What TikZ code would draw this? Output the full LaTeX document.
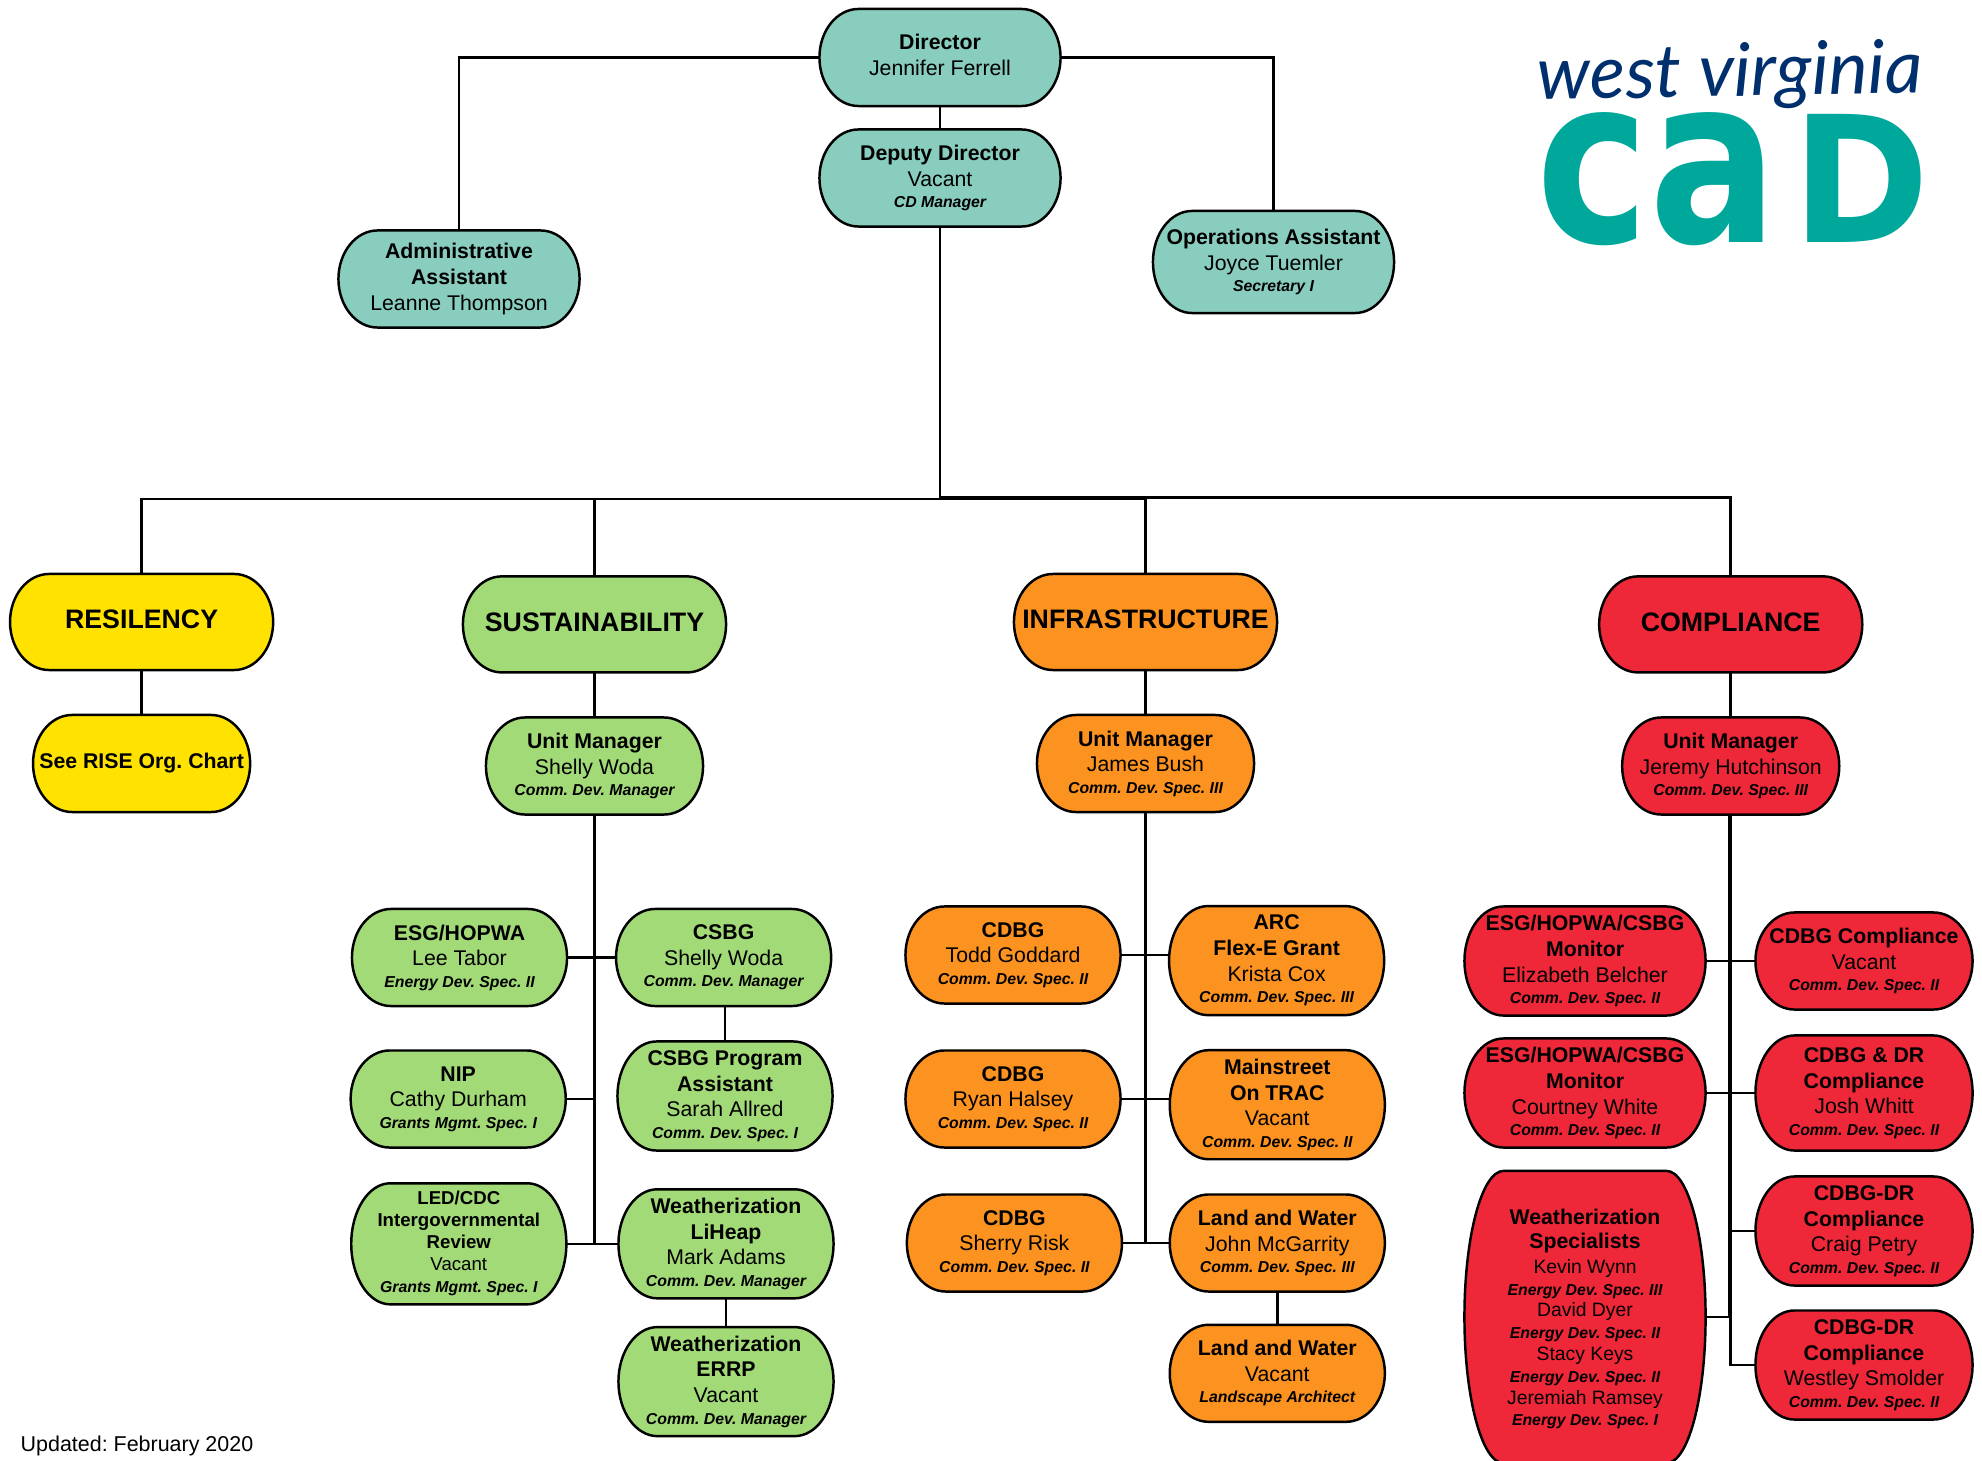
\documentclass[tikz,border=0pt]{standalone}
\usepackage{xcolor}
\usepackage{fontspec}
\setmainfont{Liberation Sans}
\newfontfamily\scriptlogofont{Lato}
\newfontfamily\marklogofont{DejaVu Sans}

\definecolor{cdteal}{HTML}{88CDBE}
\definecolor{cdyellow}{HTML}{FFE200}
\definecolor{cdgreen}{HTML}{A3DA78}
\definecolor{cdorange}{HTML}{FC9220}
\definecolor{cdred}{HTML}{EE2838}
\definecolor{logoteal}{HTML}{00A89B}
\definecolor{logonavy}{HTML}{002F6E}

% rectangle with elliptical corners, the ends stay half the height tall
\makeatletter
\pgfdeclareshape{pillbox}{
	\inheritsavedanchors[from=rectangle]
	\inheritanchorborder[from=rectangle]
	\inheritanchor[from=rectangle]{center}
	\inheritanchor[from=rectangle]{north}
	\inheritanchor[from=rectangle]{south}
	\inheritanchor[from=rectangle]{east}
	\inheritanchor[from=rectangle]{west}
	\backgroundpath{
		\southwest \edef\pillxa{\the\pgf@x}\edef\pillya{\the\pgf@y}
		\northeast \edef\pillxb{\the\pgf@x}\edef\pillyb{\the\pgf@y}
		\pgfmathsetlengthmacro{\pillrx}{0.39cm}
		\pgfmathsetlengthmacro{\pillkx}{0.448*\pillrx}
		\pgfmathsetlengthmacro{\pillky}{0.224*(\pillyb-\pillya)}
		\pgfmathsetlengthmacro{\pillmy}{0.5*(\pillyb+\pillya)}
		\pgfpathmoveto{\pgfpoint{\pillxa}{\pillmy}}
		\pgfpathcurveto{\pgfpoint{\pillxa}{\pillyb-\pillky}}{\pgfpoint{\pillxa+\pillkx}{\pillyb}}{\pgfpoint{\pillxa+\pillrx}{\pillyb}}
		\pgfpathlineto{\pgfpoint{\pillxb-\pillrx}{\pillyb}}
		\pgfpathcurveto{\pgfpoint{\pillxb-\pillkx}{\pillyb}}{\pgfpoint{\pillxb}{\pillyb-\pillky}}{\pgfpoint{\pillxb}{\pillmy}}
		\pgfpathcurveto{\pgfpoint{\pillxb}{\pillya+\pillky}}{\pgfpoint{\pillxb-\pillkx}{\pillya}}{\pgfpoint{\pillxb-\pillrx}{\pillya}}
		\pgfpathlineto{\pgfpoint{\pillxa+\pillrx}{\pillya}}
		\pgfpathcurveto{\pgfpoint{\pillxa+\pillkx}{\pillya}}{\pgfpoint{\pillxa}{\pillya+\pillky}}{\pgfpoint{\pillxa}{\pillmy}}
		\pgfpathclose
	}
}
\makeatother

\newcommand{\rolefont}{\fontsize{4.5}{5}\selectfont\bfseries\itshape}
\newcommand{\jobtitle}[1]{{\bfseries #1}}
\newcommand{\jobrole}[1]{\\[-1.2pt]{\rolefont #1}}

\begin{document}
\frenchspacing
\begin{tikzpicture}[
	x=0.01cm, y=-0.01cm,
	orgbox/.style={
		shape=pillbox, draw=black, line width=0.7pt,
		inner sep=0pt, outer sep=0pt, align=center,
		font=\fontsize{6.05}{7.3}\selectfont
	},
	wide/.style={minimum width=2.41cm},
	mid/.style={minimum width=2.15cm},
	low/.style={minimum height=0.97cm},
	tall/.style={minimum height=1.09cm, execute at begin node=\rule{0pt}{5.2pt}},
	head/.style={orgbox, minimum width=2.63cm, minimum height=0.96cm, text depth=0.05cm, font=\fontsize{7.6}{8.5}\selectfont\bfseries},
	tealbox/.style={orgbox, wide, low, fill=cdteal},
	greenbox/.style={orgbox, mid, fill=cdgreen},
	orangebox/.style={orgbox, mid, fill=cdorange},
	redbox/.style={orgbox, mid, fill=cdred},
	link/.style={draw=black, line width=0.7pt}
	]
	\useasboundingbox (0,0) rectangle (1982,1461);

	% top of the chart
	\node[tealbox, text depth=0.05cm] (director) at (940,57.5) {\jobtitle{Director}\\Jennifer Ferrell};
	\node[tealbox] (deputy) at (940,178) {\jobtitle{Deputy Director}\\Vacant\jobrole{CD Manager}};
	\node[tealbox] (admin) at (459,279) {\jobtitle{Administrative}\\\jobtitle{Assistant}\\Leanne Thompson};
	\node[tealbox, minimum height=1.02cm] (ops) at (1273.5,262) {\jobtitle{Operations Assistant}\\Joyce Tuemler\jobrole{Secretary I}};

	% the four units
	\node[head, fill=cdyellow] (resiliency) at (141.6,622) {RESILENCY};
	\node[head, fill=cdgreen] (sustainability) at (594.5,624.4) {SUSTAINABILITY};
	\node[head, fill=cdorange] (infrastructure) at (1145.5,622) {INFRASTRUCTURE};
	\node[head, fill=cdred] (compliance) at (1730.7,624.4) {COMPLIANCE};

	\node[orgbox, minimum width=2.17cm, low, fill=cdyellow] (rise) at (141.6,763.5) {\jobtitle{See RISE Org. Chart}};
	\node[greenbox, minimum width=2.17cm, low] (umsust) at (594.5,766) {\jobtitle{Unit Manager}\\Shelly Woda\jobrole{Comm. Dev. Manager}};
	\node[orangebox, minimum width=2.17cm, low] (uminfra) at (1145.5,763.5) {\jobtitle{Unit Manager}\\James Bush\jobrole{Comm. Dev. Spec. III}};
	\node[redbox, minimum width=2.17cm, low] (umcomp) at (1730.7,766) {\jobtitle{Unit Manager}\\Jeremy Hutchinson\jobrole{Comm. Dev. Spec. III}};

	% sustainability
	\node[greenbox, low] (esg) at (459.5,957.5) {\jobtitle{ESG/HOPWA}\\Lee Tabor\jobrole{Energy Dev. Spec. II}};
	\node[greenbox, low] (csbg) at (723.6,957.5) {\jobtitle{CSBG}\\Shelly Woda\jobrole{Comm. Dev. Manager}};
	\node[greenbox, low] (nip) at (458.2,1099) {\jobtitle{NIP}\\Cathy Durham\jobrole{Grants Mgmt. Spec. I}};
	\node[greenbox, tall] (csbgasst) at (725,1096) {\jobtitle{CSBG Program}\\\jobtitle{Assistant}\\Sarah Allred\jobrole{Comm. Dev. Spec. I}};
	\node[greenbox, minimum height=1.21cm, font=\fontsize{5.3}{6.25}\selectfont] (led) at (458.8,1243.8) {\jobtitle{LED/CDC}\\\jobtitle{Intergovernmental}\\\jobtitle{Review}\\Vacant\\{\rolefont Grants Mgmt. Spec. I}};
	\node[greenbox, tall] (liheap) at (726,1243.8) {\jobtitle{Weatherization}\\\jobtitle{LiHeap}\\Mark Adams\jobrole{Comm. Dev. Manager}};
	\node[greenbox, tall] (errp) at (726,1381.6) {\jobtitle{Weatherization}\\\jobtitle{ERRP}\\Vacant\jobrole{Comm. Dev. Manager}};

	% infrastructure
	\node[orangebox, low] (todd) at (1013,955) {\jobtitle{CDBG}\\Todd Goddard\jobrole{Comm. Dev. Spec. II}};
	\node[orangebox, tall] (arc) at (1276.6,960.6) {\jobtitle{ARC}\\\jobtitle{Flex-E Grant}\\Krista Cox\jobrole{Comm. Dev. Spec. III}};
	\node[orangebox, low] (ryan) at (1013,1099) {\jobtitle{CDBG}\\Ryan Halsey\jobrole{Comm. Dev. Spec. II}};
	\node[orangebox, tall] (mainstreet) at (1277.3,1104.7) {\jobtitle{Mainstreet}\\\jobtitle{On TRAC}\\Vacant\jobrole{Comm. Dev. Spec. II}};
	\node[orangebox, low] (sherry) at (1014.4,1243) {\jobtitle{CDBG}\\Sherry Risk\jobrole{Comm. Dev. Spec. II}};
	\node[orangebox, low] (landwater) at (1277.3,1243) {\jobtitle{Land and Water}\\John McGarrity\jobrole{Comm. Dev. Spec. III}};
	\node[orangebox, low] (landarch) at (1277.3,1373.3) {\jobtitle{Land and Water}\\Vacant\jobrole{Landscape Architect}};

	% compliance
	\node[redbox, wide, tall] (elizabeth) at (1585,961) {\jobtitle{ESG/HOPWA/CSBG}\\\jobtitle{Monitor}\\Elizabeth Belcher\jobrole{Comm. Dev. Spec. II}};
	\node[redbox, low, minimum width=2.17cm] (cdbgcomp) at (1864,961) {\jobtitle{CDBG Compliance}\\Vacant\jobrole{Comm. Dev. Spec. II}};
	\node[redbox, wide, tall] (courtney) at (1585,1093) {\jobtitle{ESG/HOPWA/CSBG}\\\jobtitle{Monitor}\\Courtney White\jobrole{Comm. Dev. Spec. II}};
	\node[redbox, minimum width=2.17cm, minimum height=1.15cm] (cdbgdr) at (1864,1093) {\jobtitle{CDBG \& DR}\\\jobtitle{Compliance}\\Josh Whitt\jobrole{Comm. Dev. Spec. II}};
	\node[redbox, wide, minimum height=2.92cm, font=\fontsize{5.5}{6.2}\selectfont] (weather) at (1585,1317) {\rule{0pt}{5.5pt}{\fontsize{6.05}{7.3}\selectfont\jobtitle{Weatherization}}\\[0.8pt]{\fontsize{6.05}{7.3}\selectfont\jobtitle{Specialists}}\\[0.8pt]Kevin Wynn\\{\rolefont Energy Dev. Spec. III}\\David Dyer\\{\rolefont Energy Dev. Spec. II}\\Stacy Keys\\{\rolefont Energy Dev. Spec. II}\\Jeremiah Ramsey\\{\rolefont Energy Dev. Spec. I}};
	\node[redbox, tall, minimum width=2.17cm] (petry) at (1864,1231) {\jobtitle{CDBG-DR}\\\jobtitle{Compliance}\\Craig Petry\jobrole{Comm. Dev. Spec. II}};
	\node[redbox, tall, minimum width=2.17cm] (westley) at (1864,1365) {\jobtitle{CDBG-DR}\\\jobtitle{Compliance}\\Westley Smolder\jobrole{Comm. Dev. Spec. II}};

	\node[anchor=base west, inner sep=0pt, font=\fontsize{6.1}{7.3}\selectfont] (updated) at (20,1451) {Updated: February 2020};

	% logo
	\node[anchor=base, inner sep=0pt, text=logoteal, font=\marklogofont\bfseries\fontsize{66}{66}\selectfont] (logomark) at (1733,243) {\scalebox{0.82}[1]{ca}\hspace{4pt}\fontsize{50}{50}\selectfont\scalebox{0.94}[1]{D}};
	\node[inner sep=0pt, text=logonavy, rotate=1, font=\scriptlogofont\itshape\fontsize{21}{24}\selectfont] (logoscript) at (1730,76) {west virginia};

	% connectors
	\coordinate (busleft) at (940,499);
	\coordinate (busright) at (940,497.5);
	\draw[link] (director) -- (deputy);
	\draw[link] (director.west) -| (admin.north);
	\draw[link] (director.east) -| (ops.north);
	\draw[link] (deputy.south) -- (busleft);
	\draw[link] (busleft) -| (resiliency.north);
	\draw[link] (busleft) -| (sustainability.north);
	\draw[link] (busleft) -| (infrastructure.north);
	\draw[link] (busright) -| (compliance.north);

	\foreach \upper/\lower in {resiliency/rise, sustainability/umsust, infrastructure/uminfra, compliance/umcomp, liheap/errp}
		\draw[link] (\upper) -- (\lower);
	\draw[link] (csbgasst.north |- csbg.south) -- (csbgasst.north);
	\draw[link] (landarch.north |- landwater.south) -- (landarch.north);

	\draw[link] (umsust.south) -- (umsust.south |- led.east);
	\draw[link] (esg.east) -- (csbg.west);
	\draw[link] (nip.east) -- (nip.east -| umsust.south);
	\draw[link] (led.east) -- (liheap.west);

	\draw[link] (uminfra.south) -- (uminfra.south |- sherry.east);
	\draw[link] (todd.east) -- (todd.east -| arc.west);
	\draw[link] (ryan.east) -- (ryan.east -| mainstreet.west);
	\draw[link] (sherry.east) -- (landwater.west);

	\draw[link] (umcomp.south) |- (westley.west);
	\draw[link] (umcomp.south) |- (petry.west);
	\draw[link] (elizabeth.east) -- (cdbgcomp.west);
	\draw[link] (courtney.east) -- (cdbgdr.west);
	\draw[link] (weather.east) -| ([xshift=-0.4pt]umcomp.south);
\end{tikzpicture}
\end{document}
